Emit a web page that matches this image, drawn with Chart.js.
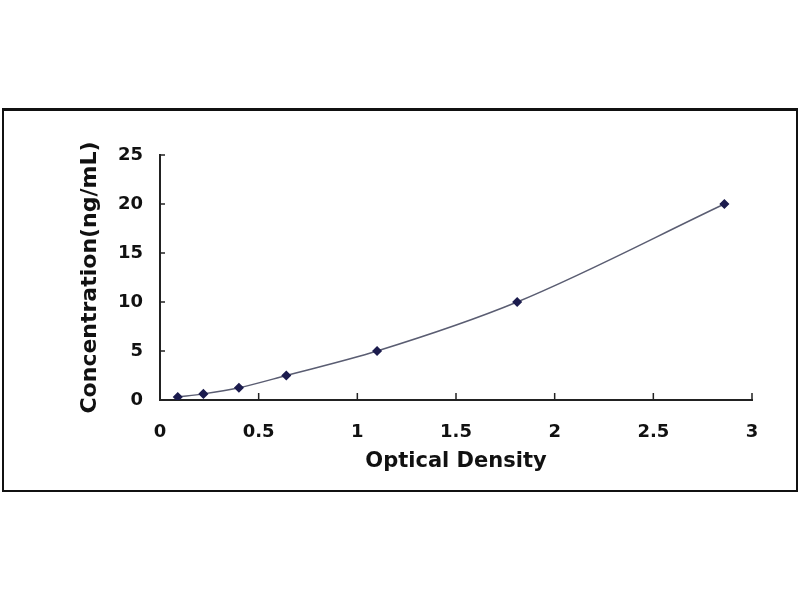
<!DOCTYPE html>
<html>
<head>
<meta charset="utf-8">
<script src="https://cdn.jsdelivr.net/npm/chart.js@4.4.0/dist/chart.umd.min.js"></script>
<style>
  html, body { margin: 0; padding: 0; background: #fff; }
  #caixa {
    position: absolute; left: 2px; top: 108px;
    width: 792px; height: 379px;
    border: 2px solid #111;
    border-top-width: 3px;
  }
</style>
</head>
<body>
<div id="caixa"><canvas id="grafico"></canvas></div>
<script>
let densidadeOptica = [0.09, 0.22, 0.40, 0.64, 1.10, 1.81, 2.86];
let concentracao = [0.312, 0.625, 1.25, 2.5, 5, 10, 20];

let ticksX = [0, 0.5, 1, 1.5, 2, 2.5, 3];
let ticksY = [0, 5, 10, 15, 20, 25];

let pontos = [];
for (let i = 0; i < densidadeOptica.length; i++) {
  pontos.push({ x: densidadeOptica[i], y: concentracao[i] });
}

// marcas de escala para dentro
let marcasInternas = {
  id: "marcasInternas",
  afterDraw(chart) {
    let ctx = chart.ctx;
    let x = chart.scales.x;
    let y = chart.scales.y;
    ctx.save();
    ctx.strokeStyle = "#222";
    ctx.lineWidth = 1.5;
    ticksX.forEach(function (v) {
      let px = x.getPixelForValue(v);
      ctx.beginPath();
      ctx.moveTo(px, y.bottom);
      ctx.lineTo(px, y.bottom - 7);
      ctx.stroke();
    });
    ticksY.forEach(function (v) {
      let py = y.getPixelForValue(v);
      ctx.beginPath();
      ctx.moveTo(x.left, py);
      ctx.lineTo(x.left + 5, py);
      ctx.stroke();
    });
    ctx.restore();
  }
};

let fonteTick = { family: "DejaVu Sans", size: 18, weight: "bold" };

function rotulo(valor) {
  return String(valor);
}

new Chart(document.getElementById("grafico"), {
  type: "line",
  data: {
    datasets: [{
      label: "Curva padrao",
      data: pontos,
      borderColor: "#5a5d72",
      borderWidth: 1.5,
      cubicInterpolationMode: "monotone",
      pointStyle: "rectRot",
      pointRadius: 4,
      pointBackgroundColor: "#1c1c4e",
      pointBorderColor: "#1c1c4e",
      fill: false
    }]
  },
  plugins: [marcasInternas],
  options: {
    responsive: true,
    maintainAspectRatio: false,
    animation: false,
    layout: { padding: { left: 0, right: 44, top: 44, bottom: 0 } },
    plugins: {
      legend: { display: false },
      tooltip: { enabled: false }
    },
    scales: {
      x: {
        type: "linear",
        min: 0,
        max: 3,
        afterFit: function (s) { s.height = 90; },
        afterBuildTicks: function (s) { s.ticks = ticksX.map(function (v) { return { value: v }; }); },
        grid: { display: false, drawTicks: false },
        border: { display: true, color: "#222", width: 2 },
        ticks: { color: "#111", font: fonteTick, padding: 22, maxRotation: 0, callback: rotulo },
        title: {
          display: true,
          text: "Optical Density",
          color: "#111",
          font: { family: "DejaVu Sans", size: 21, weight: "bold" },
          padding: { top: 0, bottom: 16 }
        }
      },
      y: {
        type: "linear",
        min: 0,
        max: 25,
        afterFit: function (s) { s.width = 156; },
        afterBuildTicks: function (s) { s.ticks = ticksY.map(function (v) { return { value: v }; }); },
        grid: { display: false, drawTicks: false },
        border: { display: true, color: "#222", width: 2 },
        ticks: { color: "#111", font: fonteTick, padding: 17, callback: rotulo },
        title: {
          display: true,
          text: "Concentration(ng/mL)",
          color: "#111",
          font: { family: "DejaVu Sans", size: 22, weight: "bold" },
          padding: { top: 73, bottom: 0 }
        }
      }
    }
  }
});
</script>
</body>
</html>
